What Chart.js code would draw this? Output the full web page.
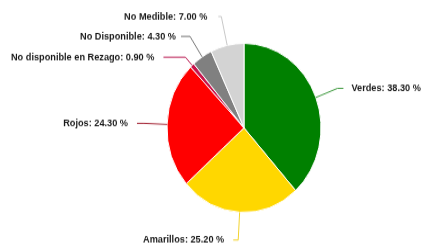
<!DOCTYPE html>
<html>
<head>
<meta charset="utf-8">
<script src="https://cdn.jsdelivr.net/npm/chart.js@4"></script>
<style>
    html { overflow: hidden; }
    body { margin: 0; padding: 0; background: #fff; height: 248px; }
    #wrap { width: 422px; height: 226px; transform: scale(1, 1.0973); transform-origin: 0 0; }
</style>
</head>
<body>
<div id="wrap"><canvas id="grafico" width="422" height="226"></canvas></div>
<script>
const categorias = ['Verdes', 'Amarillos', 'Rojos', 'No disponible en Rezago', 'No Disponible', 'No Medible'];
const porcentajes = [38.3, 25.2, 24.3, 0.9, 4.3, 7.0];
const colores = ['#008000', '#FFD700', '#FF0000', '#C8144B', '#808080', '#D3D3D3'];
const coloresLinea = ['#3f9a3f', '#f2d32e', '#a8303f', '#b8174f', '#777777', '#c8c8c8'];

// largo radial de cada guía, tramo horizontal y separación del texto
const guias = [
    { k: 1.30, h: 6, g: 8 },
    { k: 1.33, h: 5, g: 9 },
    { k: 1.30, h: 7, g: 9 },
    { k: 1.13, h: 22, g: 9 },
    { k: 1.29, h: 9, g: 5 },
    { k: 1.35, h: 3, g: 11 }
];

const etiquetasExternas = {
    id: 'etiquetasExternas',
    afterDatasetsDraw(chart) {
        const ctx = chart.ctx;
        const meta = chart.getDatasetMeta(0);
        ctx.save();
        ctx.font = 'bold 9.2px "Liberation Sans", Arial, sans-serif';
        ctx.textBaseline = 'middle';
        meta.data.forEach((arc, i) => {
            const { x, y, startAngle, endAngle, outerRadius } = arc.getProps(['x', 'y', 'startAngle', 'endAngle', 'outerRadius'], true);
            const mid = (startAngle + endAngle) / 2;
            const cos = Math.cos(mid), sin = Math.sin(mid);
            const g = guias[i];
            const x0 = x + cos * outerRadius, y0 = y + sin * outerRadius;
            const x1 = x + cos * outerRadius * g.k, y1 = y + sin * outerRadius * g.k;
            const derecha = cos > 0.05;
            const x2 = derecha ? x1 + g.h : x1 - g.h;
            ctx.strokeStyle = coloresLinea[i];
            ctx.lineWidth = 1;
            ctx.beginPath();
            ctx.moveTo(x0, y0);
            ctx.lineTo(x1, y1);
            ctx.lineTo(x2, y1);
            ctx.stroke();
            ctx.fillStyle = '#1a1a1a';
            ctx.textAlign = derecha ? 'left' : 'right';
            const texto = categorias[i] + ': ' + porcentajes[i].toFixed(2) + ' %';
            ctx.fillText(texto, derecha ? x2 + g.g : x2 - g.g, y1);
        });
        ctx.restore();
    }
};

new Chart(document.getElementById('grafico'), {
    type: 'pie',
    data: {
        labels: categorias,
        datasets: [{
            data: porcentajes,
            backgroundColor: colores,
            borderColor: '#ffffff',
            borderWidth: 1
        }]
    },
    options: {
        responsive: false,
        animation: false,
        radius: 77,
        layout: { padding: { left: 66, right: 0, top: 7, bottom: 0 } },
        plugins: {
            legend: { display: false },
            tooltip: { enabled: false }
        }
    },
    plugins: [etiquetasExternas]
});
</script>
</body>
</html>
